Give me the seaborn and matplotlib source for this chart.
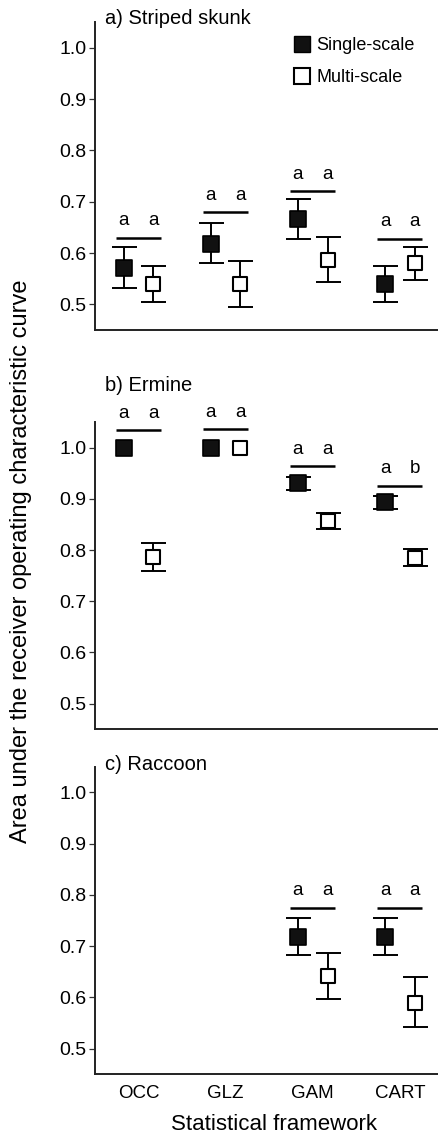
import numpy as np
import pandas as pd
import matplotlib
matplotlib.use("Agg")
import matplotlib.pyplot as plt
from matplotlib.lines import Line2D
import seaborn as sns

# ---------------- data ----------------
frameworks = ["OCC", "GLZ", "GAM", "CART"]
panel_titles = ["a) Striped skunk", "b) Ermine", "c) Raccoon"]
yticks = [0.5, 0.6, 0.7, 0.8, 0.9, 1.0]
nan = np.nan

# a) Striped skunk
skunk_single = [0.571, 0.617, 0.666, 0.540]
skunk_single_lo = [0.532, 0.580, 0.628, 0.505]
skunk_single_hi = [0.611, 0.659, 0.705, 0.575]
skunk_multi = [0.540, 0.540, 0.587, 0.580]
skunk_multi_lo = [0.505, 0.495, 0.543, 0.547]
skunk_multi_hi = [0.575, 0.585, 0.631, 0.612]
skunk_sig_y = [0.630, 0.679, 0.721, 0.628]
skunk_letters = [("a", "a"), ("a", "a"), ("a", "a"), ("a", "a")]

# b) Ermine
ermine_single = [1.000, 1.000, 0.930, 0.894]
ermine_single_lo = [1.000, 1.000, 0.917, 0.880]
ermine_single_hi = [1.000, 1.000, 0.942, 0.906]
ermine_multi = [0.786, 1.000, 0.857, 0.785]
ermine_multi_lo = [0.759, 1.000, 0.842, 0.769]
ermine_multi_hi = [0.814, 1.000, 0.872, 0.802]
ermine_sig_y = [1.034, 1.036, 0.964, 0.926]
ermine_letters = [("a", "a"), ("a", "a"), ("a", "a"), ("a", "b")]

# c) Raccoon
raccoon_single = [nan, nan, 0.717, 0.717]
raccoon_single_lo = [nan, nan, 0.682, 0.682]
raccoon_single_hi = [nan, nan, 0.754, 0.754]
raccoon_multi = [nan, nan, 0.641, 0.589]
raccoon_multi_lo = [nan, nan, 0.596, 0.542]
raccoon_multi_hi = [nan, nan, 0.687, 0.639]
raccoon_sig_y = [nan, nan, 0.775, 0.775]
raccoon_letters = [None, None, ("a", "a"), ("a", "a")]

panels = [
    (skunk_single, skunk_single_lo, skunk_single_hi, skunk_multi, skunk_multi_lo,
     skunk_multi_hi, skunk_sig_y, skunk_letters),
    (ermine_single, ermine_single_lo, ermine_single_hi, ermine_multi, ermine_multi_lo,
     ermine_multi_hi, ermine_sig_y, ermine_letters),
    (raccoon_single, raccoon_single_lo, raccoon_single_hi, raccoon_multi, raccoon_multi_lo,
     raccoon_multi_hi, raccoon_sig_y, raccoon_letters),
]

# ---------------- style ----------------
sns.set_style("ticks")
plt.rcParams["font.family"] = ["Liberation Sans", "DejaVu Sans"]
for k in ["text.color", "axes.labelcolor", "xtick.color", "ytick.color"]:
    plt.rcParams[k] = "black"

W, H = 439, 1137
fig = plt.figure(figsize=(W / 100, H / 100), dpi=100)

# axes boxes in pixel coords (top, bottom)
boxes = [(22, 330), (422, 729.3), (766.7, 1074.3)]
left_px, right_px = 95, 439
title_y = [1.012, 1.12, 1.006]

off = 0.17
x = np.arange(len(frameworks))


def draw_err(ax, xs, v, lo, hi):
    v = np.array(v, float); lo = np.array(lo, float); hi = np.array(hi, float)
    keep = ~np.isnan(v) & ((hi - lo) > 1e-9)
    if keep.any():
        ax.errorbar(xs[keep], v[keep], yerr=[v[keep] - lo[keep], hi[keep] - v[keep]],
                    fmt="none", ecolor="black", elinewidth=1.4, capsize=9, capthick=1.4,
                    zorder=2)


for i, (box, data) in enumerate(zip(boxes, panels)):
    s, slo, shi, m, mlo, mhi, sig, letters = data
    top, bot = box
    ax = fig.add_axes([left_px / W, 1 - bot / H, (right_px - left_px) / W, (bot - top) / H])

    draw_err(ax, x - off, s, slo, shi)
    draw_err(ax, x + off, m, mlo, mhi)

    df_s = pd.DataFrame({"x": x - off, "y": np.array(s, float)}).dropna()
    df_m = pd.DataFrame({"x": x + off, "y": np.array(m, float)}).dropna()
    sns.scatterplot(data=df_s, x="x", y="y", ax=ax, marker="s", s=130, color="#111111",
                    edgecolor="black", linewidth=1.2, zorder=3, legend=False)
    sns.scatterplot(data=df_m, x="x", y="y", ax=ax, marker="s", s=115, color="white",
                    edgecolor="black", linewidth=1.5, zorder=3, legend=False)

    for j, (sy, lt) in enumerate(zip(sig, letters)):
        if lt is None or np.isnan(sy):
            continue
        ax.plot([x[j] - 0.26, x[j] + 0.26], [sy, sy], color="black", lw=1.8,
                solid_capstyle="butt", clip_on=False, zorder=2)
        ax.text(x[j] - off, sy + 0.024, lt[0], ha="center", va="baseline", fontsize=13.5,
                clip_on=False)
        ax.text(x[j] + off, sy + 0.024, lt[1], ha="center", va="baseline", fontsize=13.5,
                clip_on=False)

    ax.set_xlim(-0.5, 3.45)
    ax.set_ylim(0.45, 1.05)
    ax.set_yticks(yticks)
    ax.set_yticklabels([f"{v:.1f}" for v in yticks], fontsize=14)
    ax.set_xticks(x)
    if i == 2:
        ax.set_xticklabels(frameworks, fontsize=13.5)
    else:
        ax.set_xticklabels([])
    ax.tick_params(axis="x", length=0, pad=8)
    ax.tick_params(axis="y", length=4, width=0.9, pad=2, color="#333333")
    ax.set_xlabel("")
    ax.set_ylabel("")
    sns.despine(ax=ax)
    for sp in ["left", "bottom"]:
        ax.spines[sp].set_linewidth(1.4)
        ax.spines[sp].set_color("#222222")
    ax.text(0.029, title_y[i], panel_titles[i], transform=ax.transAxes, ha="left",
            va="center", fontsize=14.5)

    if i == 0:
        handles = [
            Line2D([], [], marker="s", linestyle="none", markersize=12,
                   markerfacecolor="#111111", markeredgecolor="black"),
            Line2D([], [], marker="s", linestyle="none", markersize=11,
                   markerfacecolor="white", markeredgecolor="black", markeredgewidth=1.5),
        ]
        ax.legend(handles, ["Single-scale", "Multi-scale"], loc="upper left",
                  bbox_to_anchor=(0.55, 0.975), frameon=False, fontsize=13,
                  handletextpad=0.2, labelspacing=0.85, handlelength=1.2, borderaxespad=0)

fig.text(21 / W, 1 - 561 / H, "Area under the receiver operating characteristic curve",
         rotation=90, ha="center", va="center", fontsize=17)
fig.text(274 / W, 1 - 1125 / H, "Statistical framework", ha="center", va="center",
         fontsize=16)

fig.savefig("out.png", dpi=100)
